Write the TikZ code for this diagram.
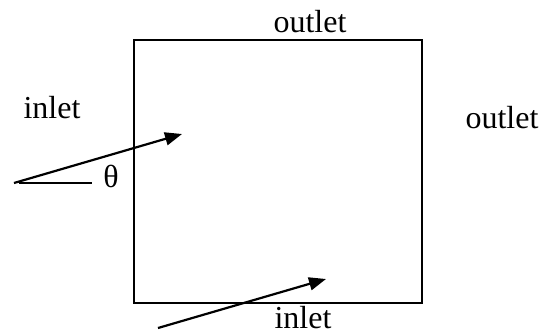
\documentclass[tikz,border=0pt]{standalone}
\usepackage{fontspec}
\setmainfont{Liberation Serif}
\usetikzlibrary{arrows.meta}

\begin{document}
\begin{tikzpicture}[x=0.5pt,y=-0.5pt,>={Triangle[length=8.5pt,width=6.5pt]},
  line width=1.1pt,
  lbl/.style={font=\fontsize{16}{19}\selectfont,inner sep=0pt,anchor=base}]
  \useasboundingbox (0,0) rectangle (552,334);
  % control volume
  \coordinate (boxnw) at (134,40);
  \coordinate (boxse) at (422,303);
  \draw (boxnw) rectangle (boxse);
  % inflow directions
  \coordinate (leftin) at (14,183);
  \coordinate (lefttip) at (182,134);
  \coordinate (refa) at (19,183);
  \coordinate (refb) at (92,183);
  \coordinate (botin) at (158,328);
  \coordinate (bottip) at (326,279);
  \draw[->] (leftin) -- (lefttip);
  \draw[line width=0.8pt] (refa) -- (refb);
  \draw[->] (botin) -- (bottip);
  % labels
  \node[lbl] (outtop) at (310,32) {outlet};
  \node[lbl] (outright) at (502,128) {outlet};
  \node[lbl] (inleft) at (52,118) {inlet};
  \node[lbl] (inbot) at (303,328) {inlet};
  \node[lbl] (angle) at (111,187) {θ};
\end{tikzpicture}
\end{document}
